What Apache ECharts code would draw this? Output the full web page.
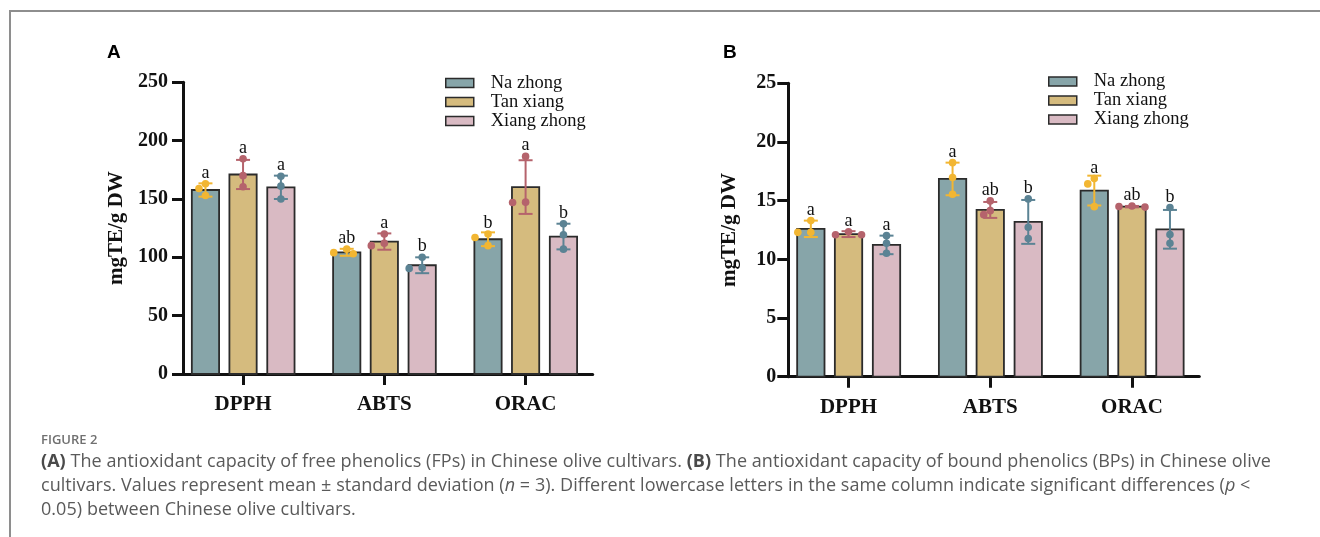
<!DOCTYPE html>
<html><head><meta charset="utf-8">
<script src="https://cdn.jsdelivr.net/npm/echarts@6/dist/echarts.min.js"></script>
<style>
html,body{margin:0;padding:0;background:#fff;}
#wrap{position:relative;width:1320px;height:537px;overflow:hidden;background:#fff;}
#frame{position:absolute;left:9px;top:10px;width:1400px;height:600px;border-top:2px solid #8e8e8e;border-left:2px solid #8e8e8e;}
#chart{position:absolute;left:0;top:0;width:1320px;height:537px;}
.cap{position:absolute;left:41px;font-family:'Open Sans';color:#5a5a5a;white-space:nowrap;}
.cap b{color:#4a4a4a;}
</style></head>
<body><div id="wrap"><div id="frame"></div><div id="chart"></div>
<div class="cap" style="top:430px;font-size:13px;font-weight:600;color:#707070;">FIGURE 2</div>
<div class="cap" style="top:448px;font-size:18px;line-height:24px;letter-spacing:0.05px;"><b>(A)</b> The antioxidant capacity of free phenolics (FPs) in Chinese olive cultivars. <b>(B)</b> The antioxidant capacity of bound phenolics (BPs) in Chinese olive<br>cultivars. Values represent mean ± standard deviation (<i>n</i> = 3). Different lowercase letters in the same column indicate significant differences (<i>p</i> &lt;<br>0.05) between Chinese olive cultivars.</div>
</div>
<script>
// ---------- data ----------
const categories = ['DPPH', 'ABTS', 'ORAC'];
const seriesNames = ['Na zhong', 'Tan xiang', 'Xiang zhong'];

// Panel A: free phenolics (mgTE/g DW)
const freeNaMean = [157.7, 104.3, 115.5];
const freeTanMean = [171.0, 113.5, 160.2];
const freeXiangMean = [160.0, 93.2, 117.8];
const freeNaSD = [5.7, 3.0, 5.9];
const freeTanSD = [12.5, 7.0, 23.0];
const freeXiangSD = [10.0, 6.8, 11.0];
const freeNaPts = [[163, 159, 153], [107, 104, 103], [120, 117, 110]];
const freeTanPts = [[184.5, 170, 160.5], [120, 112, 110], [186.5, 147, 147.3]];
const freeXiangPts = [[169.5, 161, 150], [100, 91, 90.5], [128.8, 119.4, 107]];
const freeNaLetters = ['a', 'ab', 'b'];
const freeTanLetters = ['a', 'a', 'a'];
const freeXiangLetters = ['a', 'b', 'b'];
const freeTicks = [0, 50, 100, 150, 200, 250];

// Panel B: bound phenolics (mgTE/g DW)
const boundNaMean = [12.6, 16.85, 15.86];
const boundTanMean = [12.15, 14.21, 14.49];
const boundXiangMean = [11.23, 13.19, 12.56];
const boundNaSD = [0.7, 1.39, 1.27];
const boundTanSD = [0.25, 0.68, 0.06];
const boundXiangSD = [0.79, 1.87, 1.65];
const boundNaPts = [[13.3, 12.3, 12.3], [18.24, 16.97, 15.55], [16.88, 16.43, 14.49]];
const boundTanPts = [[12.1, 12.35, 12.1], [14.98, 13.81, 14.15], [14.45, 14.55, 14.5]];
const boundXiangPts = [[12.02, 11.37, 10.52], [15.15, 12.73, 11.77], [14.41, 12.11, 11.37]];
const boundNaLetters = ['a', 'a', 'a'];
const boundTanLetters = ['a', 'ab', 'ab'];
const boundXiangLetters = ['a', 'b', 'b'];
const boundTicks = [0, 5, 10, 15, 20, 25];

// ---------- styles ----------
const fills = ['#87a5a9', '#d5bb7e', '#d9bac3'];
const dotColors = ['#f2b632', '#b5636c', '#5b8394'];
const OFFS = [-0.266, 0, 0.268];
const BARW = 0.193;
const SERIF = '"Liberation Serif", "Times New Roman", serif';
const INK = '#111';

function buildData(means, sds, pts) {
  return categories.map((c, i) => [i, means[i], sds[i], pts[i][0], pts[i][1], pts[i][2]]);
}

function makeRender(si, letters) {
  return function (params, api) {
    const ci = api.value(0), mean = api.value(1), sd = api.value(2);
    const pv = [api.value(3), api.value(4), api.value(5)];
    const xc = ci + OFFS[si];
    const c = api.coord([xc, mean]);
    const base = api.coord([xc, 0]);
    const half = api.size([BARW, 0])[0] / 2;
    const top = api.coord([xc, mean + sd])[1];
    const bot = api.coord([xc, mean - sd])[1];
    const col = dotColors[si];
    const cap = 7;
    const children = [];
    children.push({ type: 'rect', shape: { x: c[0] - half, y: c[1], width: 2 * half, height: base[1] - c[1] },
      style: { fill: fills[si], stroke: '#2b2b2b', lineWidth: 1.8 } });
    children.push({ type: 'line', shape: { x1: c[0], y1: top, x2: c[0], y2: bot }, style: { stroke: col, lineWidth: 2 } });
    children.push({ type: 'line', shape: { x1: c[0] - cap, y1: top, x2: c[0] + cap, y2: top }, style: { stroke: col, lineWidth: 2 } });
    children.push({ type: 'line', shape: { x1: c[0] - cap, y1: bot, x2: c[0] + cap, y2: bot }, style: { stroke: col, lineWidth: 2 } });
    const ys = pv.map(v => api.coord([xc, v])[1]);
    const order = [0, 1, 2].sort((a, b) => ys[a] - ys[b]);
    const pos = [];
    const D = 7.5;
    order.forEach(i => {
      const cands = [0, -6.5, 6.5, -13, 13];
      for (const dx of cands) {
        const px = c[0] + dx;
        if (pos.every(p => Math.hypot(p[0] - px, p[1] - ys[i]) >= D)) { pos.push([px, ys[i]]); break; }
      }
    });
    pos.forEach(p => children.push({ type: 'circle', shape: { cx: p[0], cy: p[1], r: 3.8 }, style: { fill: col } }));
    const topMost = Math.min(top, Math.min.apply(null, ys) - 3.8);
    children.push({ type: 'text', style: { text: letters[ci], x: c[0], y: topMost + 2, align: 'center', verticalAlign: 'bottom',
      fontFamily: SERIF, fontSize: 18, fill: INK } });
    return { type: 'group', children: children };
  };
}

function axisPair(gi, ticks, labelMargin, nameGap) {
  const x = {
    gridIndex: gi, type: 'value', min: -0.425, max: 2.475,
    splitLine: { show: false },
    axisLine: { show: true, onZero: false, lineStyle: { color: INK, width: 3 } },
    axisTick: { show: true, customValues: [0, 1, 2], length: 11, lineStyle: { color: INK, width: 3 } },
    axisLabel: { customValues: [0, 1, 2], formatter: v => categories[Math.round(v)], fontFamily: SERIF,
      fontWeight: 'bold', fontSize: 21, color: INK, margin: 20 }
  };
  const y = {
    gridIndex: gi, type: 'value', min: ticks[0], max: ticks[ticks.length - 1], interval: ticks[1] - ticks[0],
    splitLine: { show: false },
    axisLine: { show: true, onZero: false, lineStyle: { color: INK, width: 3 } },
    axisTick: { show: true, length: 11, lineStyle: { color: INK, width: 3 } },
    axisLabel: { fontFamily: SERIF, fontWeight: 'bold', fontSize: 20, color: INK, margin: labelMargin },
    name: 'mgTE/g DW', nameLocation: 'middle', nameGap: nameGap,
    nameTextStyle: { fontFamily: SERIF, fontWeight: 'bold', fontSize: 21, color: INK }
  };
  return [x, y];
}

const [xA, yA] = axisPair(0, freeTicks, 15, 56);
const [xB, yB] = axisPair(1, boundTicks, 12, 48);

const panelA = [[freeNaMean, freeNaSD, freeNaPts, freeNaLetters], [freeTanMean, freeTanSD, freeTanPts, freeTanLetters], [freeXiangMean, freeXiangSD, freeXiangPts, freeXiangLetters]];
const panelB = [[boundNaMean, boundNaSD, boundNaPts, boundNaLetters], [boundTanMean, boundTanSD, boundTanPts, boundTanLetters], [boundXiangMean, boundXiangSD, boundXiangPts, boundXiangLetters]];

const series = [];
[panelA, panelB].forEach((panel, gi) => {
  panel.forEach((s, si) => {
    series.push({
      type: 'custom', name: seriesNames[si], xAxisIndex: gi, yAxisIndex: gi,
      itemStyle: { color: fills[si] },
      renderItem: makeRender(si, s[3]),
      encode: { x: 0, y: 1 },
      data: buildData(s[0], s[1], s[2]),
      clip: false
    });
  });
});

function legend(left, top) {
  return {
    left: left, top: top, orient: 'vertical', icon: 'rect', itemWidth: 28, itemHeight: 9, itemGap: 0,
    padding: 0, data: seriesNames, selectedMode: false,
    itemStyle: { borderColor: '#2b2b2b', borderWidth: 1.5 },
    textStyle: { fontFamily: SERIF, fontSize: 18.5, color: INK, lineHeight: 18, padding: [0, 0, 0, 12] }
  };
}

const chart = echarts.init(document.getElementById('chart'), null, { renderer: 'canvas' });
chart.setOption({
  animation: false,
  grid: [
    { left: 183, top: 82.3, width: 409.7, height: 291.7, outerBoundsMode: 'none', containLabel: false },
    { left: 788.3, top: 83.3, width: 411, height: 293.4, outerBoundsMode: 'none', containLabel: false }
  ],
  xAxis: [xA, xB],
  yAxis: [yA, yB],
  legend: [legend(445, 73.5), legend(1048, 72)],
  graphic: [
    { type: 'text', left: 107, top: 43, style: { text: 'A', fontFamily: '"Liberation Sans", Arial, sans-serif', fontWeight: 'bold', fontSize: 19, fill: '#000' } },
    { type: 'text', left: 723, top: 43, style: { text: 'B', fontFamily: '"Liberation Sans", Arial, sans-serif', fontWeight: 'bold', fontSize: 19, fill: '#000' } }
  ],
  series: series
});
</script>
</body></html>
